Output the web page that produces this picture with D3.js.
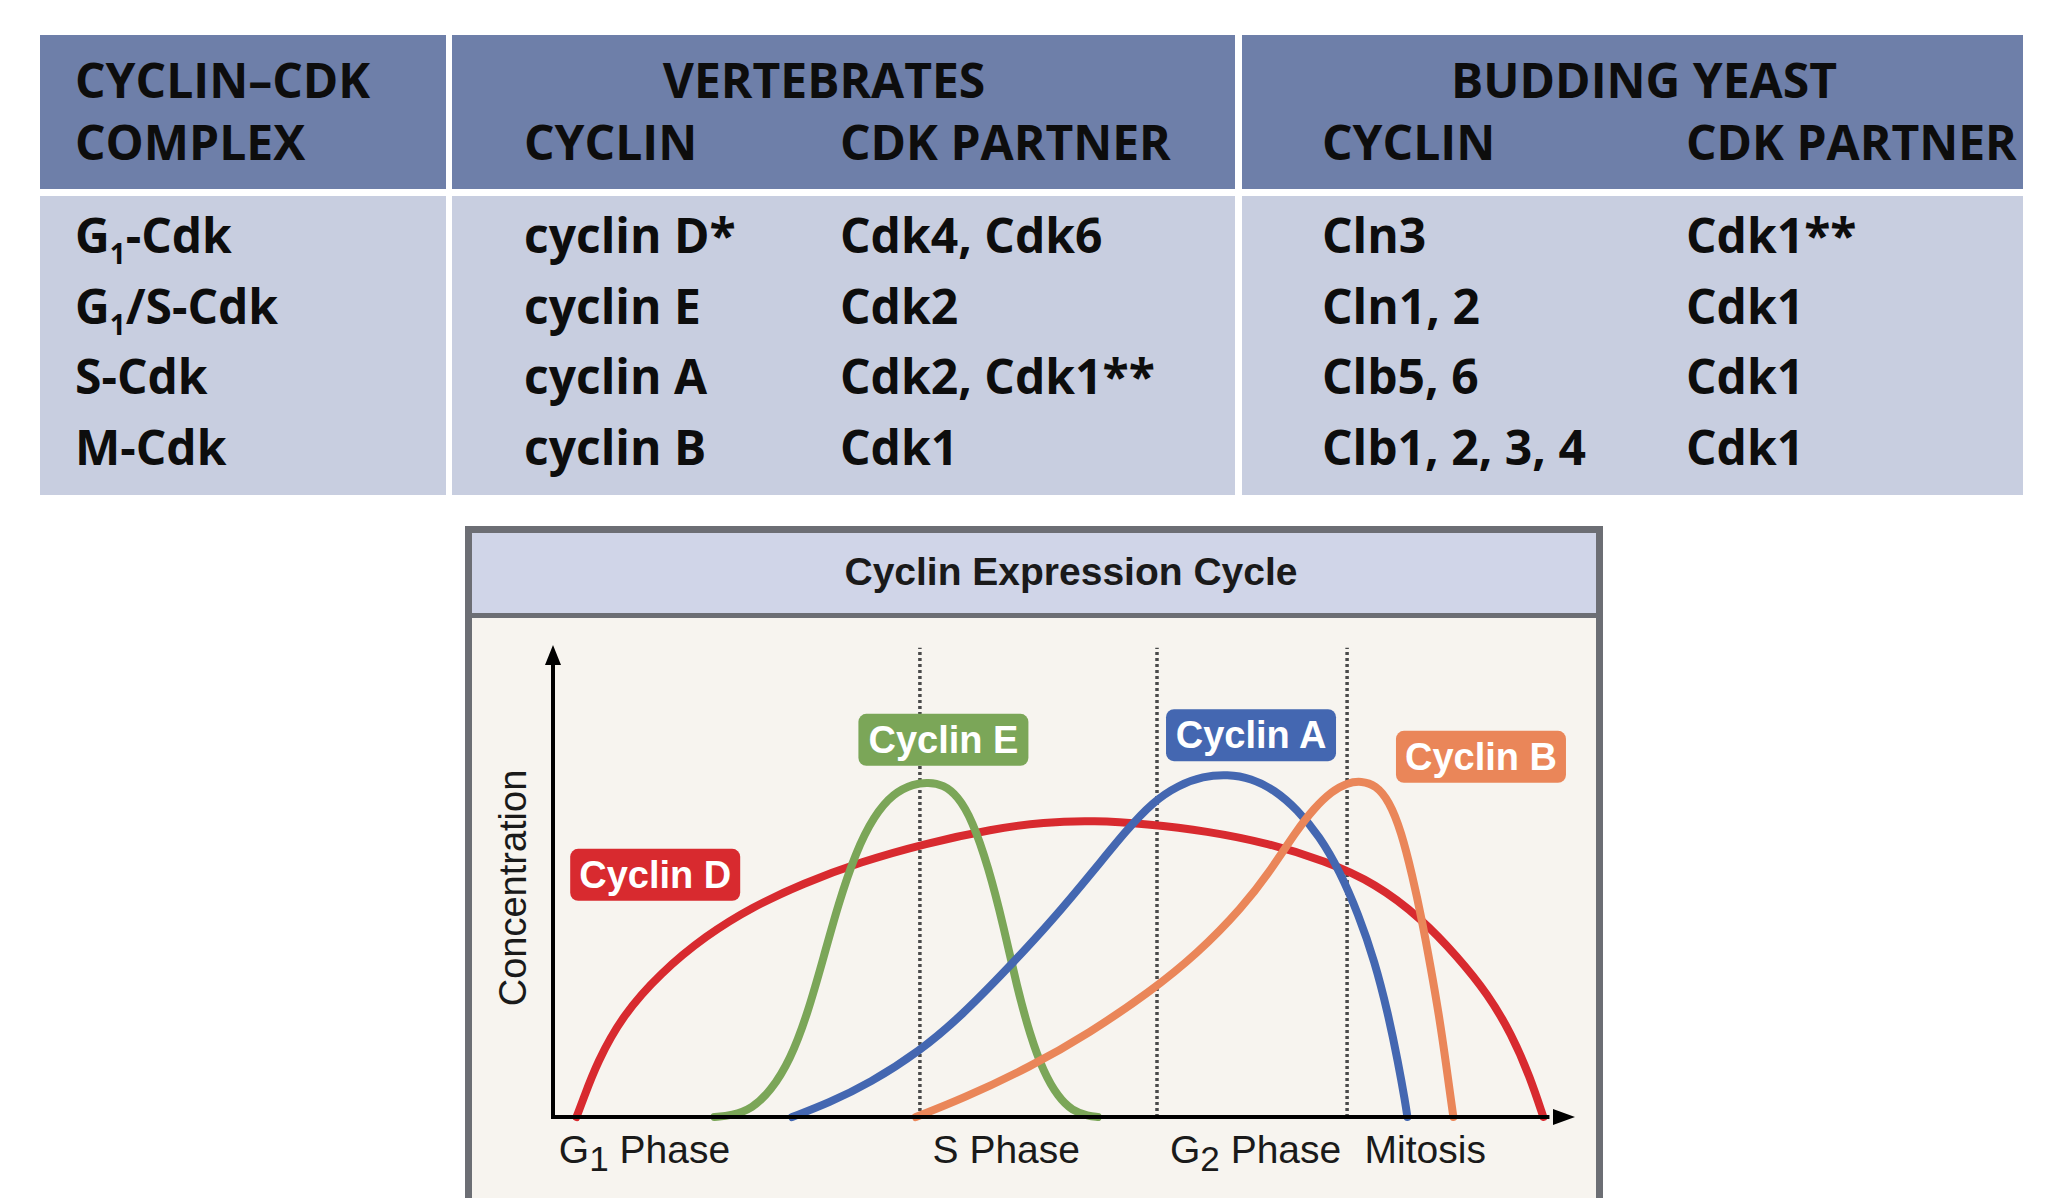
<!DOCTYPE html>
<html>
<head>
<meta charset="utf-8">
<script src="https://cdn.jsdelivr.net/npm/d3@7"></script>
<style>
  body { margin: 0; background: #fff; }
  svg { display: block; }
</style>
</head>
<body>
<svg id="fig" width="2066" height="1198"></svg>
<script>
// ---- table contents ----
var groupHeads = ['VERTEBRATES', 'BUDDING YEAST'];
var colHeads = ['CYCLIN', 'CDK PARTNER', 'CYCLIN', 'CDK PARTNER'];
var firstHead = ['CYCLIN\u2013CDK', 'COMPLEX'];
var complexes = ['G_1-Cdk', 'G_1/S-Cdk', 'S-Cdk', 'M-Cdk'];
var vertCyclins = ['cyclin D*', 'cyclin E', 'cyclin A', 'cyclin B'];
var vertCdks = ['Cdk4, Cdk6', 'Cdk2', 'Cdk2, Cdk1**', 'Cdk1'];
var yeastCyclins = ['Cln3', 'Cln1, 2', 'Clb5, 6', 'Clb1, 2, 3, 4'];
var yeastCdks = ['Cdk1**', 'Cdk1', 'Cdk1', 'Cdk1'];

// ---- cyclin curves: [cycle progress 0-100, concentration 0-100] ----
var cyclinNames = ['Cyclin D', 'Cyclin E', 'Cyclin A', 'Cyclin B'];
var cyclinD = [[2.3,0],[3,4],[4.3,11.5],[6.8,21.5],[10.5,30.5],[15,38.5],[19.5,44.5],[24.5,49.5],[30,54],
  [36.5,58],[43,61],[48,62.5],[53,62.8],[58,62.1],[64,60.6],[70,58],[75.5,54.3],[80.5,49.5],[85,42],
  [88.5,34],[91.5,26],[93.8,17.5],[95.6,8.5],[96.9,0]];
var cyclinE = [[15.8,0],[17.5,0.3],[19.5,1.8],[21.3,5.5],[23.2,12],[24.9,21.8],[26.5,34],[27.9,45],
  [29.6,56],[31.4,63.8],[33.3,68.6],[35.3,70.6],[36.7,70.9],[38.2,70.4],[39.6,68],[41,63],[42.6,53],
  [44.1,40.3],[45.4,27.5],[46.7,17.2],[48,9.5],[49.4,4.3],[50.8,1.3],[52.4,0.2],[53.3,0]];
var cyclinA = [[23.4,0],[27,3],[31,7.2],[35.8,13.8],[40,21.5],[44.5,31.5],[48.8,41.5],[53.2,53],[56,60.5],
  [58.7,66.8],[61.2,70.3],[63.6,72.2],[66,72.6],[68.3,71.8],[70.6,69.3],[72.8,65.2],[75,59.5],[77,52],
  [78.8,43],[80.4,33],[81.7,22],[82.7,11.5],[83.4,3],[83.6,0]];
var cyclinB = [[35.5,0],[40,3.8],[46.7,10.6],[52.5,17.8],[58.4,26.5],[63,34.5],[67.5,44.5],[70.3,52.5],
  [72.7,60.5],[74.5,65.5],[76.2,69],[77.7,70.8],[79.1,71.2],[80.5,70.3],[81.8,67],[83,60.5],[84.1,51],
  [85,42],[85.9,31.5],[86.7,21.5],[87.4,11],[87.9,3],[88.1,0]];
var phaseNames = ['G_1 Phase', 'S Phase', 'G_2 Phase', 'Mitosis'];
var phaseAt = [8.9, 44.3, 68.7, 85.3];
var phaseBounds = [35.9, 59.1, 77.7];

var colors = ['#d82a2f', '#7ba658', '#4467b1', '#ea8659'];
var labelAt = [[10, 51.3], [38.2, 79.9], [68.3, 80.9], [90.8, 76.3]];

var svg = d3.select('#fig');

// write "G_1" style strings with a lowered subscript
function rich(sel, str, subScale, drop) {
  var parts = str.split(/_(\d)/);
  parts.forEach(function (p, i) {
    if (!p) return;
    if (i % 2) {
      sel.append('tspan').attr('font-size', subScale + 'em').attr('dy', drop).text(p);
    } else {
      var t = sel.append('tspan').text(p);
      if (i > 0) t.attr('dy', -drop);
    }
  });
}

// ---- table ----
var tbl = svg.append('g').attr('font-family', '"Open Sans", sans-serif')
  .attr('font-weight', 700).attr('font-size', 48).attr('fill', '#0d0d0d');
var cells = [[40, 446], [452, 1235], [1242, 2023]];
cells.forEach(function (c) {
  tbl.append('rect').attr('x', c[0]).attr('y', 35).attr('width', c[1] - c[0]).attr('height', 154).attr('fill', '#6e7fa9');
  tbl.append('rect').attr('x', c[0]).attr('y', 196).attr('width', c[1] - c[0]).attr('height', 299).attr('fill', '#c8cee0');
});
var colX = [75, 524, 840, 1322, 1686];
tbl.selectAll('text.fh').data(firstHead).enter().append('text')
  .attr('x', colX[0]).attr('y', function (d, i) { return 98 + i * 62; }).text(function (d) { return d; });
tbl.selectAll('text.gh').data(groupHeads).enter().append('text')
  .attr('x', function (d, i) { return [824, 1644][i]; }).attr('y', 98)
  .attr('text-anchor', 'middle').text(function (d) { return d; });
tbl.selectAll('text.ch').data(colHeads).enter().append('text')
  .attr('x', function (d, i) { return colX[i + 1]; }).attr('y', 160).text(function (d) { return d; });

var columns = [complexes, vertCyclins, vertCdks, yeastCyclins, yeastCdks];
var rowY = d3.scaleLinear().domain([0, 3]).range([253, 465]);
columns.forEach(function (col, ci) {
  col.forEach(function (s, ri) {
    var t = tbl.append('text').attr('x', colX[ci]).attr('y', rowY(ri));
    rich(t, s, 0.58, 11);
  });
});

// ---- cyclin panel ----
svg.append('rect').attr('x', 468.5).attr('y', 529.5).attr('width', 1131).attr('height', 720)
  .attr('fill', '#f7f4ef').attr('stroke', '#6c6e74').attr('stroke-width', 7);
svg.append('rect').attr('x', 472).attr('y', 533).attr('width', 1124).attr('height', 80).attr('fill', '#d0d5e8');
svg.append('line').attr('x1', 472).attr('x2', 1596).attr('y1', 615.5).attr('y2', 615.5)
  .attr('stroke', '#6c6e74').attr('stroke-width', 5);
svg.append('text').attr('x', 1071).attr('y', 585).attr('text-anchor', 'middle')
  .attr('font-family', '"Liberation Sans", Arial, sans-serif').attr('font-weight', 700)
  .attr('font-size', 39).attr('fill', '#1a1a1a').text('Cyclin Expression Cycle');

var x = d3.scaleLinear().domain([0, 100]).range([553, 1575]);
var y = d3.scaleLinear().domain([0, 100]).range([1117, 645]);

// phase boundaries
svg.selectAll('line.bound').data(phaseBounds).enter().append('line')
  .attr('x1', function (d) { return x(d); }).attr('x2', function (d) { return x(d); })
  .attr('y1', y(0)).attr('y2', y(99.4))
  .attr('stroke', '#4a4a4a').attr('stroke-width', 3.5).attr('stroke-dasharray', '3,3');

var line = d3.line().x(function (d) { return x(d[0]); }).y(function (d) { return y(d[1]); })
  .curve(d3.curveBasis);
var series = [cyclinD, cyclinE, cyclinA, cyclinB];
svg.selectAll('path.cyc').data(series).enter().append('path')
  .attr('d', line).attr('fill', 'none')
  .attr('stroke', function (d, i) { return colors[i]; })
  .attr('stroke-width', 8).attr('stroke-linecap', 'round');

// axes
var ax = svg.append('g');
ax.append('line').attr('x1', x(0)).attr('x2', x(0)).attr('y1', y(0) + 2).attr('y2', y(97))
  .attr('stroke', '#000').attr('stroke-width', 4);
ax.append('line').attr('x1', x(0) - 2).attr('x2', x(97.5)).attr('y1', y(0)).attr('y2', y(0))
  .attr('stroke', '#000').attr('stroke-width', 4);
ax.append('path').attr('d', 'M' + x(0) + ',' + y(100) + 'l-8,20h16z').attr('fill', '#000');
ax.append('path').attr('d', 'M' + x(100) + ',' + y(0) + 'l-22,-8v16z').attr('fill', '#000');

var xAxis = d3.axisBottom(x).tickValues(phaseAt).tickSize(0).tickPadding(18).tickFormat(function () { return ''; });
var xg = svg.append('g').attr('transform', 'translate(0,' + y(0) + ')').call(xAxis);
xg.select('.domain').remove();
xg.selectAll('.tick text')
  .attr('font-family', '"Liberation Sans", Arial, sans-serif').attr('font-size', 39).attr('fill', '#1a1a1a')
  .attr('dy', '0.71em')
  .each(function (d, i) { rich(d3.select(this), phaseNames[i], 0.9, 8); });

svg.append('text').attr('transform', 'translate(526,888) rotate(-90)').attr('text-anchor', 'middle')
  .attr('font-family', '"Liberation Sans", Arial, sans-serif').attr('font-size', 38).attr('fill', '#1a1a1a')
  .text('Concentration');

// cyclin tags
var tags = svg.selectAll('g.tag').data(cyclinNames).enter().append('g')
  .attr('transform', function (d, i) { return 'translate(' + x(labelAt[i][0]) + ',' + y(labelAt[i][1]) + ')'; });
tags.append('rect').attr('x', -85).attr('y', -26).attr('width', 170).attr('height', 52).attr('rx', 8)
  .attr('fill', function (d, i) { return colors[i]; });
tags.append('text').attr('text-anchor', 'middle').attr('y', 13)
  .attr('font-family', '"Liberation Sans", Arial, sans-serif').attr('font-weight', 700)
  .attr('font-size', 38).attr('fill', '#fff').text(function (d) { return d; });
</script>
</body>
</html>
